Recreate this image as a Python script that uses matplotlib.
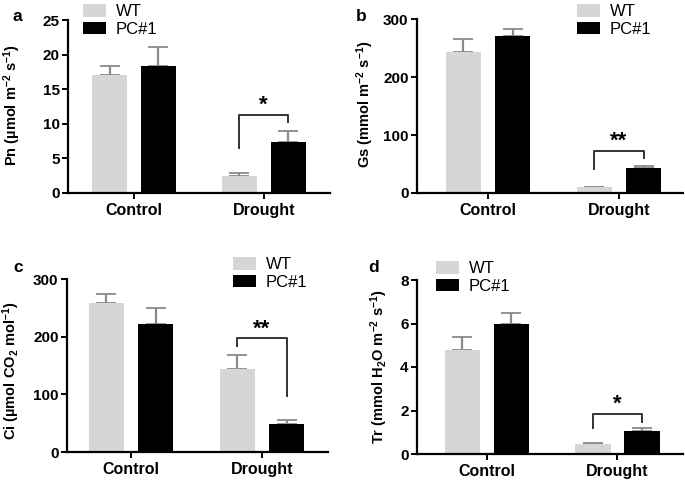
import numpy as np
import matplotlib
matplotlib.use("Agg")
import matplotlib.pyplot as plt

plt.rcParams['font.family'] = ['Liberation Sans', 'DejaVu Sans']
plt.rcParams['mathtext.fontset'] = 'custom'
plt.rcParams['mathtext.rm'] = 'Liberation Sans:bold'
plt.rcParams['mathtext.default'] = 'rm'

# data
groups = ['Control', 'Drought']
series = ['WT', 'PC#1']

pn_wt = [17.0, 2.4]
pn_wt_err = [1.4, 0.5]
pn_pc = [18.3, 7.3]
pn_pc_err = [2.8, 1.6]

gs_wt = [244, 9.5]
gs_wt_err = [22, 1]
gs_pc = [271, 42.5]
gs_pc_err = [12, 4.5]

ci_wt = [258, 144]
ci_wt_err = [16, 24]
ci_pc = [222, 49]
ci_pc_err = [29, 7]

tr_wt = [4.78, 0.46]
tr_wt_err = [0.6, 0.03]
tr_pc = [5.97, 1.05]
tr_pc_err = [0.5, 0.13]

# significance brackets: (left end, top, right end, label)
pn_sig = (6.5, 11.3, 10.3, '*')
gs_sig = (41, 73, 60, '**')
ci_sig = (184, 197.5, 98, '**')
tr_sig = (1.19, 1.85, 1.45, '*')

W, H = 685, 480
fig = plt.figure(figsize=(W / 100, H / 100), dpi=100)

wt_color = '#d6d6d6'
pc_color = '#000000'
err_color = '#8a8a8a'
off = 0.188
bw = 0.27


def px_axes(left, right, bottom, top):
    return fig.add_axes([left / W, 1 - bottom / H, (right - left) / W, (bottom - top) / H])


def panel(ax, wt, wt_err, pc, pc_err, ymax, yticks, xlim, ylabel, sig,
          label_x, label_y, letter, letter_xy, leg_xy):
    x = np.arange(len(groups))
    ekw = dict(ecolor=err_color, elinewidth=1.6, capsize=7, capthick=1.3, zorder=1)
    b1 = ax.bar(x - off, wt, bw, color=wt_color, label=series[0],
                yerr=[np.zeros(len(wt)), wt_err], error_kw=ekw, zorder=2)
    b2 = ax.bar(x + off, pc, bw, color=pc_color, label=series[1],
                yerr=[np.zeros(len(pc)), pc_err], error_kw=ekw, zorder=2)
    ax.set_xlim(*xlim)
    ax.set_ylim(0, ymax)
    ax.set_yticks(yticks)
    ax.set_xticks(x)
    ax.set_xticklabels(groups, fontsize=11.5, fontweight='bold')
    for t in ax.get_yticklabels():
        t.set_fontweight('bold')
        t.set_fontsize(11)
    for s in ['top', 'right']:
        ax.spines[s].set_visible(False)
    for s in ['left', 'bottom']:
        ax.spines[s].set_linewidth(1.6)
    ax.tick_params(axis='y', length=4, width=1.4, pad=2)
    ax.tick_params(axis='x', length=4, width=1.4, pad=3)
    ax.set_ylabel(ylabel, fontsize=10.5, fontweight='bold')
    ax.yaxis.set_label_coords(label_x, label_y)

    # bracket over drought bars
    l, t, r, lab = sig
    xl, xr = x[1] - off, x[1] + off
    ax.plot([xl, xl, xr, xr], [l, t, t, r], color='#333333', lw=1.4, zorder=3)
    ax.annotate(lab, xy=((xl + xr) / 2, t), xytext=(0, -1), textcoords='offset points',
                ha='center', va='bottom', fontsize=16, fontweight='bold')

    fig.text(letter_xy[0] / W, 1 - letter_xy[1] / H, letter, fontsize=12.5,
             fontweight='bold', va='baseline', ha='left')
    ax.legend(handles=[b1, b2], loc='upper left', frameon=False,
              bbox_to_anchor=(leg_xy[0] / W, 1 - leg_xy[1] / H),
              bbox_transform=fig.transFigure, borderpad=0, borderaxespad=0,
              handlelength=1.4, handleheight=0.8, handletextpad=0.55,
              labelspacing=0.15, fontsize=12)


ax_a = px_axes(68, 330, 193, 20)
panel(ax_a, pn_wt, pn_wt_err, pn_pc, pn_pc_err, 25, [0, 5, 10, 15, 20, 25],
      (-0.508, 1.51), 'Pn (µmol m$^{-2}$ s$^{-1}$)', pn_sig,
      -0.172, 0.51, 'a', (12, 21), (83, 4))

ax_b = px_axes(417, 683, 193, 19.3)
panel(ax_b, gs_wt, gs_wt_err, gs_pc, gs_pc_err, 300, [0, 100, 200, 300],
      (-0.542, 1.489), 'Gs (mmol m$^{-2}$ s$^{-1}$)', gs_sig,
      -0.154, 0.51, 'b', (356, 21), (577, 4))

ax_c = px_axes(67, 328, 452, 279.3)
panel(ax_c, ci_wt, ci_wt_err, ci_pc, ci_pc_err, 300, [0, 100, 200, 300],
      (-0.489, 1.504), 'Ci (µmol CO$_2$ mol$^{-1}$)', ci_sig,
      -0.172, 0.47, 'c', (13, 272), (233, 257))

ax_d = px_axes(417, 683, 454, 280)
panel(ax_d, tr_wt, tr_wt_err, tr_pc, tr_pc_err, 8, [0, 2, 4, 6, 8],
      (-0.536, 1.502), 'Tr (mmol H$_2$O m$^{-2}$ s$^{-1}$)', tr_sig,
      -0.10, 0.50, 'd', (368, 272), (436, 261))

fig.savefig('out.png', dpi=100)
